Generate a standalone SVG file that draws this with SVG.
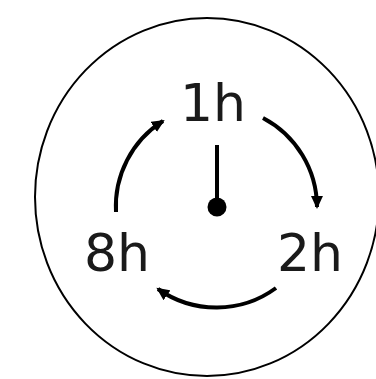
<svg xmlns="http://www.w3.org/2000/svg" width="376" height="379" viewBox="0 0 376 379">
<style>
.lbl{font-family:"DejaVu Sans","Liberation Sans",sans-serif;font-size:52px;fill:#1a1a1a;text-anchor:middle}
.arc{fill:none;stroke:#000;stroke-width:4;stroke-linecap:butt}
</style>
<defs>
<marker id="ah" markerUnits="userSpaceOnUse" markerWidth="14" markerHeight="12" refX="11" refY="6" orient="auto">
<path d="M0,0 L13,6 L0,12 z" fill="#000"/>
</marker>
</defs>
<rect width="376" height="379" fill="#fff"/>
<ellipse cx="207" cy="197" rx="172" ry="179" fill="none" stroke="#000" stroke-width="2"/>
<g id="hand">
<line x1="217" y1="145" x2="217" y2="205" stroke="#000" stroke-width="4"/>
<circle cx="217" cy="207" r="9.5" fill="#000"/>
</g>
<g id="connectors">
<path class="arc" d="M116,212 A101,101 0 0 1 163,121" marker-end="url(#ah)"/>
<path class="arc" d="M263,118 A101,101 0 0 1 317,207" marker-end="url(#ah)"/>
<path class="arc" d="M276,288 A101,101 0 0 1 158,289" marker-end="url(#ah)"/>
</g>
<g id="n1"><text class="lbl" x="213" y="121">1h</text></g>
<g id="n8"><text class="lbl" x="117" y="271">8h</text></g>
<g id="n2"><text class="lbl" x="310" y="271">2h</text></g>
</svg>
